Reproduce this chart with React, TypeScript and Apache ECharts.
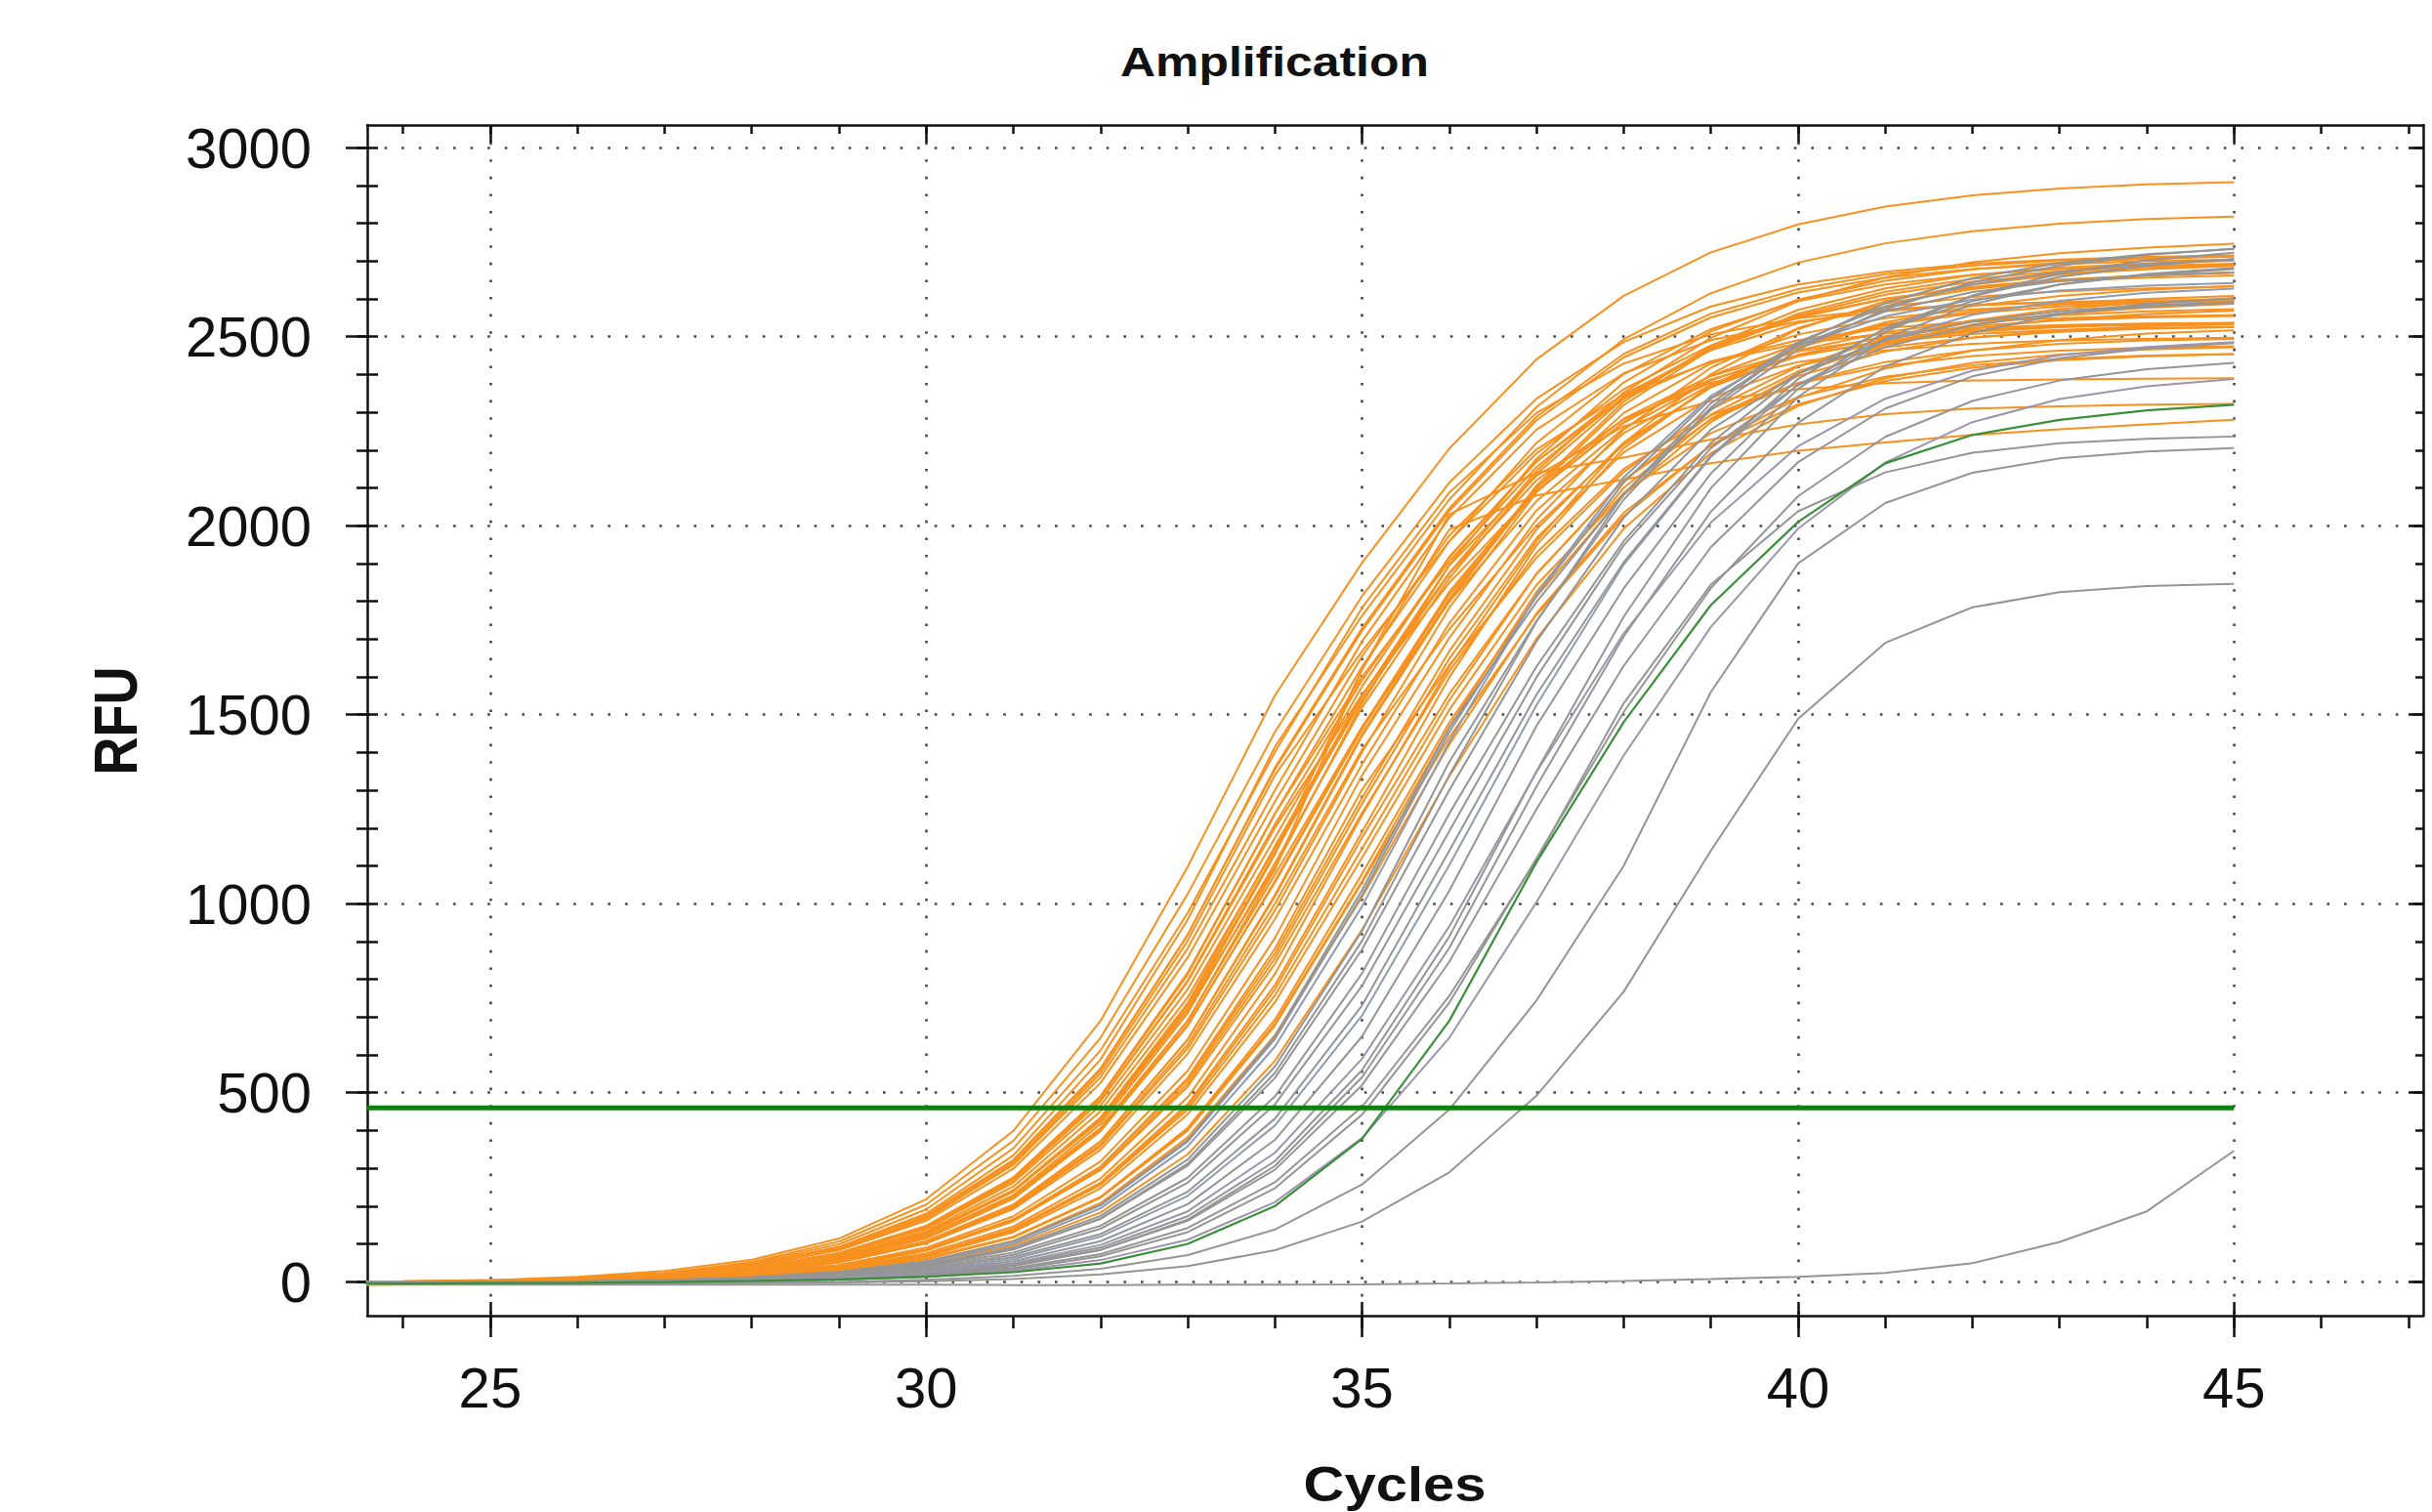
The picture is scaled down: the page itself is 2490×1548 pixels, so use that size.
import React, { useEffect, useRef } from "react";
import * as echarts from "echarts";

// ---------- data ----------
const cycles = [23, 24, 25, 26, 27, 28, 29, 30, 31, 32, 33, 34, 35, 36, 37, 38, 39, 40, 41, 42, 43, 44, 45];

const orangeCurves: number[][] = [
  [-2, 0, 4, 13, 28, 58, 114, 218, 399, 690, 1098, 1551, 1902, 2204, 2440, 2608, 2723, 2797, 2844, 2874, 2892, 2903, 2909],
  [-4, -2, 1, 8, 20, 45, 92, 180, 334, 588, 958, 1415, 1762, 2069, 2314, 2493, 2615, 2696, 2747, 2779, 2799, 2811, 2818],
  [-6, -4, 0, 8, 22, 52, 106, 204, 373, 645, 1026, 1454, 1814, 2114, 2336, 2486, 2580, 2638, 2672, 2693, 2704, 2711, 2715],
  [-1, 1, 4, 10, 22, 46, 91, 175, 322, 564, 918, 1355, 1722, 2039, 2279, 2445, 2551, 2617, 2656, 2679, 2692, 2700, 2704],
  [-3, -2, 1, 6, 16, 37, 76, 148, 276, 491, 818, 1238, 1627, 1959, 2219, 2401, 2520, 2594, 2638, 2664, 2679, 2688, 2693],
  [-5, -4, 0, 5, 17, 41, 86, 167, 309, 541, 882, 1300, 1694, 2021, 2254, 2403, 2491, 2540, 2568, 2583, 2591, 2595, 2597],
  [0, 1, 3, 8, 18, 37, 73, 140, 262, 466, 774, 1174, 1575, 1918, 2171, 2336, 2435, 2491, 2523, 2540, 2549, 2554, 2557],
  [-5, -4, -1, 4, 12, 29, 64, 126, 238, 431, 730, 1135, 1548, 1896, 2177, 2379, 2514, 2598, 2648, 2678, 2696, 2706, 2712],
  [-7, -6, -3, 2, 12, 31, 72, 144, 268, 478, 794, 1201, 1553, 1849, 2091, 2272, 2397, 2480, 2533, 2567, 2588, 2600, 2608],
  [-3, -2, 1, 5, 13, 29, 61, 119, 223, 402, 680, 1056, 1461, 1818, 2092, 2274, 2387, 2451, 2487, 2507, 2518, 2523, 2526],
  [-4, -3, -1, 3, 10, 24, 53, 104, 196, 358, 617, 982, 1401, 1783, 2088, 2298, 2429, 2506, 2549, 2572, 2585, 2592, 2596],
  [-2, -1, 1, 5, 12, 27, 55, 107, 204, 371, 640, 1019, 1444, 1801, 2099, 2319, 2467, 2561, 2619, 2653, 2673, 2684, 2691],
  [-5, -4, -3, 0, 6, 18, 42, 86, 165, 304, 533, 868, 1280, 1668, 1990, 2220, 2366, 2452, 2501, 2528, 2543, 2551, 2555],
  [-6, -5, -3, 0, 7, 21, 50, 101, 192, 349, 603, 959, 1369, 1742, 2040, 2245, 2373, 2448, 2490, 2513, 2525, 2532, 2536],
  [-3, -2, -1, 1, 6, 16, 35, 71, 137, 256, 455, 757, 1146, 1538, 1873, 2120, 2281, 2378, 2433, 2464, 2481, 2490, 2494],
  [-4, -3, -2, 2, 8, 20, 44, 90, 173, 318, 558, 909, 1340, 1703, 2016, 2254, 2418, 2523, 2588, 2626, 2649, 2662, 2670],
  [-2, -2, -1, 2, 6, 14, 31, 62, 119, 224, 403, 683, 1060, 1467, 1825, 2100, 2283, 2396, 2461, 2497, 2517, 2528, 2533],
  [-7, -6, -5, -3, 3, 12, 31, 68, 135, 257, 463, 773, 1175, 1555, 1872, 2120, 2294, 2408, 2479, 2521, 2546, 2560, 2569],
  [-1, 0, 1, 4, 10, 21, 43, 83, 160, 295, 516, 841, 1240, 1615, 1928, 2150, 2292, 2376, 2423, 2449, 2463, 2471, 2475],
  [-5, -4, -3, -1, 5, 15, 34, 70, 140, 262, 470, 785, 1190, 1599, 1948, 2205, 2372, 2473, 2530, 2562, 2580, 2589, 2594],
  [-5, -4, -3, -1, 2, 9, 22, 48, 95, 183, 337, 584, 931, 1337, 1701, 1992, 2192, 2317, 2390, 2431, 2453, 2466, 2472],
  [-9, -8, -7, -5, 0, 7, 23, 52, 108, 208, 382, 652, 1018, 1421, 1768, 2034, 2212, 2321, 2383, 2418, 2438, 2448, 2454],
  [-2, -1, 2, 8, 20, 42, 83, 161, 299, 526, 858, 1270, 1655, 1974, 2202, 2347, 2433, 2482, 2508, 2523, 2531, 2535, 2537],
  [-1, 0, 3, 8, 18, 37, 74, 144, 268, 479, 797, 1210, 1591, 1916, 2169, 2348, 2464, 2536, 2579, 2605, 2620, 2628, 2633],
  [-6, -5, -2, 2, 11, 28, 59, 120, 229, 417, 711, 1107, 1519, 1861, 2137, 2336, 2467, 2550, 2600, 2629, 2647, 2656, 2662],
  [-1, 0, 2, 6, 13, 27, 54, 105, 199, 363, 627, 1000, 1408, 1726, 2000, 2214, 2367, 2471, 2538, 2581, 2608, 2624, 2634],
  [-3, -2, -1, 2, 7, 17, 37, 75, 146, 273, 488, 814, 1234, 1627, 1959, 2219, 2401, 2520, 2594, 2638, 2664, 2679, 2688],
  [-5, -5, -4, -1, 3, 11, 28, 59, 117, 224, 407, 693, 1079, 1479, 1812, 2081, 2274, 2403, 2483, 2532, 2560, 2577, 2587],
  [-4, -2, 2, 9, 23, 49, 99, 191, 353, 612, 976, 1401, 1783, 2088, 2298, 2429, 2506, 2549, 2572, 2585, 2592, 2596, 2597],
  [-4, -3, 0, 5, 13, 31, 64, 126, 239, 434, 737, 1152, 1552, 1875, 2145, 2352, 2497, 2594, 2657, 2697, 2721, 2736, 2746],
  [-3, -2, 1, 6, 14, 30, 62, 120, 228, 405, 690, 1090, 1620, 1990, 2080, 2122, 2165, 2198, 2220, 2240, 2255, 2268, 2280],
  [-6, -5, -2, 3, 12, 30, 64, 128, 240, 425, 720, 1130, 1620, 2030, 2140, 2180, 2228, 2268, 2295, 2310, 2316, 2320, 2322],
  [-2, 0, 2, 7, 16, 34, 67, 130, 242, 433, 721, 1096, 1530, 1895, 2132, 2263, 2330, 2361, 2377, 2384, 2387, 2389, 2390],
  [-7, -6, -5, -1, 5, 16, 39, 82, 162, 304, 539, 881, 1302, 1631, 1915, 2142, 2308, 2421, 2496, 2543, 2573, 2591, 2602],
  [-3, -2, 0, 5, 15, 33, 68, 134, 252, 451, 752, 1146, 1538, 1873, 2120, 2281, 2378, 2433, 2464, 2481, 2490, 2494, 2497],
  [-2, -1, 2, 6, 14, 31, 61, 119, 225, 407, 691, 1077, 1468, 1799, 2065, 2257, 2384, 2464, 2512, 2541, 2557, 2567, 2573],
  [-5, -5, -3, -1, 4, 13, 32, 66, 131, 247, 443, 739, 1122, 1513, 1843, 2086, 2245, 2340, 2394, 2424, 2441, 2450, 2454],
  [-5, -4, 0, 6, 18, 41, 85, 167, 312, 552, 902, 1340, 1668, 1959, 2191, 2361, 2477, 2553, 2601, 2632, 2651, 2662, 2669],
  [-5, -4, -1, 3, 11, 27, 57, 114, 219, 398, 677, 1060, 1467, 1825, 2100, 2283, 2396, 2461, 2497, 2517, 2528, 2533, 2536],
  [-2, -1, 1, 5, 12, 27, 54, 106, 203, 371, 641, 1023, 1449, 1807, 2106, 2328, 2476, 2571, 2628, 2663, 2683, 2694, 2701],
  [-3, -2, -1, 2, 8, 20, 42, 83, 160, 298, 524, 855, 1265, 1648, 1967, 2194, 2338, 2423, 2472, 2498, 2513, 2521, 2525],
  [-3, -2, 1, 6, 16, 36, 74, 145, 272, 487, 813, 1238, 1600, 1906, 2155, 2341, 2471, 2556, 2611, 2645, 2667, 2679, 2688],
  [-2, -1, 0, 3, 7, 15, 31, 61, 118, 222, 400, 678, 1056, 1440, 1764, 2025, 2213, 2338, 2416, 2463, 2491, 2508, 2517],
  [-4, -2, 1, 7, 19, 43, 88, 171, 318, 561, 917, 1360, 1729, 2046, 2288, 2454, 2561, 2626, 2665, 2688, 2702, 2710, 2714],
];

const grayCurves: number[][] = [
  [-4, -3, -2, 0, 4, 12, 26, 54, 106, 202, 371, 642, 1023, 1454, 1814, 2114, 2336, 2486, 2580, 2638, 2672, 2693, 2704],
  [-7, -6, -5, -3, 1, 8, 22, 49, 100, 194, 358, 622, 993, 1428, 1818, 2128, 2343, 2476, 2554, 2598, 2622, 2635, 2642],
  [-3, -2, -1, 0, 4, 9, 21, 44, 86, 166, 307, 539, 879, 1300, 1694, 2021, 2254, 2403, 2491, 2540, 2568, 2583, 2591],
  [-5, -4, -3, -1, 2, 8, 21, 45, 90, 174, 323, 569, 928, 1375, 1748, 2069, 2313, 2481, 2589, 2655, 2695, 2718, 2732],
  [-2, -1, 0, 1, 4, 9, 19, 39, 77, 148, 275, 490, 816, 1238, 1627, 1959, 2219, 2401, 2520, 2594, 2638, 2664, 2679],
  [-6, -5, -5, -4, -1, 3, 12, 28, 60, 119, 227, 413, 704, 1102, 1525, 1897, 2182, 2373, 2491, 2558, 2595, 2616, 2627],
  [-4, -4, -3, -2, 0, 4, 12, 26, 54, 107, 205, 375, 649, 1034, 1470, 1834, 2138, 2362, 2513, 2609, 2667, 2702, 2722],
  [-3, -3, -2, -1, 1, 4, 10, 22, 46, 90, 173, 319, 560, 913, 1350, 1759, 2099, 2341, 2495, 2586, 2638, 2666, 2682],
  [-6, -6, -5, -4, -3, 1, 7, 18, 41, 84, 164, 306, 541, 883, 1310, 1707, 2037, 2272, 2421, 2510, 2560, 2587, 2602],
  [-2, -2, -1, 0, 1, 4, 10, 21, 43, 84, 161, 296, 520, 846, 1250, 1629, 1943, 2168, 2310, 2395, 2443, 2469, 2483],
  [-5, -5, -4, -4, -2, 0, 5, 14, 32, 67, 131, 247, 442, 738, 1120, 1507, 1835, 2078, 2235, 2330, 2384, 2414, 2431],
  [-3, -3, -3, -2, -1, 1, 5, 13, 28, 57, 111, 210, 380, 645, 1004, 1392, 1732, 1992, 2167, 2274, 2335, 2369, 2388],
  [-4, -4, -3, -2, 0, 2, 7, 17, 36, 73, 142, 263, 463, 756, 1116, 1530, 1844, 2038, 2141, 2193, 2218, 2230, 2236],
  [-6, -6, -6, -5, -5, -3, -1, 5, 15, 34, 70, 138, 257, 455, 744, 1100, 1560, 1900, 2060, 2140, 2178, 2196, 2205],
  [-5, -5, -5, -5, -4, -3, -2, 1, 7, 19, 41, 83, 159, 289, 492, 767, 1140, 1489, 1690, 1784, 1824, 1840, 1846],
  [-6, -7, -8, -8, -8, -8, -8, -8, -9, -9, -8, -8, -7, -5, -2, 2, 7, 13, 23, 49, 105, 186, 346],
  [-5, -4, -3, -2, 0, 6, 16, 35, 71, 140, 262, 469, 783, 1192, 1599, 1948, 2205, 2372, 2473, 2530, 2562, 2580, 2589],
  [-3, -2, -2, -1, 2, 7, 15, 32, 65, 126, 238, 431, 731, 1140, 1553, 1903, 2185, 2388, 2523, 2607, 2658, 2688, 2706],
  [-7, -6, -5, -4, 0, 6, 18, 41, 85, 167, 312, 552, 902, 1340, 1746, 2083, 2324, 2477, 2567, 2618, 2647, 2662, 2670],
  [-4, -4, -3, -2, 0, 3, 10, 24, 49, 97, 186, 341, 590, 940, 1348, 1715, 2008, 2210, 2336, 2410, 2451, 2473, 2486],
  [-6, -5, -4, -2, 2, 10, 24, 52, 106, 203, 375, 649, 1036, 1466, 1798, 2084, 2306, 2466, 2573, 2644, 2688, 2716, 2733],
];

const controlCurve = [-4, -5, -4, -3, -1, 2, 6, 13, 25, 48, 100, 200, 378, 690, 1110, 1480, 1790, 2010, 2165, 2240, 2280, 2305, 2320];

const THRESHOLD = 460;
const thresholdEndCycle = 45;

const xLabelValues = [25, 30, 35, 40, 45];
const xMinorValues = [24, 25, 26, 27, 28, 29, 30, 31, 32, 33, 34, 35, 36, 37, 38, 39, 40, 41, 42, 43, 44, 45, 46, 47];
const yLabelValues = [0, 500, 1000, 1500, 2000, 2500, 3000];
const yMinorValues = [0, 100, 200, 300, 400, 500, 600, 700, 800, 900, 1000, 1100, 1200, 1300, 1400, 1500, 1600, 1700, 1800, 1900, 2000, 2100, 2200, 2300, 2400, 2500, 2600, 2700, 2800, 2900, 3000];

const X_MIN = 23.59;
const X_MAX = 47.17;
const Y_MIN = -90;
const Y_MAX = 3060;

// ---------- styles ----------
const ORANGE = "#f7911f";
const GRAY = "#959595";
const grayTints: Record<number, string> = { 1: "#8f9bb0", 5: "#8f9bb0", 11: "#9c95ab", 19: "#9c95ab" };
const GREEN_CURVE = "#3b8f3b";
const GREEN_THRESHOLD = "#0f7f0f";
const INK = "#111111";
const NUM_FONT = '"Liberation Sans", Arial, sans-serif';

const tickStyle = { color: INK, width: 2.5 };
const dotted = { color: "#474747", width: 2.6, type: [2.6, 15] as number[] };

function hiddenAxisBase(kind: "x" | "y", position: string) {
  return {
    type: "value",
    min: kind === "x" ? X_MIN : Y_MIN,
    max: kind === "x" ? X_MAX : Y_MAX,
    position,
    axisLine: { show: false, onZero: false },
    axisLabel: { show: false },
    splitLine: { show: false },
    minorTick: { show: false },
  };
}

const plainNumber = (v: number) => String(v);

export default function App() {
  const ref = useRef<HTMLDivElement>(null);

  useEffect(() => {
    if (!ref.current) return;
    const chart = echarts.init(ref.current, undefined, { renderer: "svg" });

    const pairs = (vals: number[]) => cycles.map((c, i) => [c, vals[i]]);
    const lineBase = {
      type: "line",
      symbol: "none",
      showSymbol: false,
      smooth: false,
      silent: true,
      animation: false,
      emphasis: { disabled: true },
      xAxisIndex: 0,
      yAxisIndex: 0,
    };

    const series: any[] = [];
    orangeCurves.forEach((vals, i) => {
      series.push({ ...lineBase, name: `Sample ${i + 1}`, data: pairs(vals), lineStyle: { color: ORANGE, width: 2 }, z: 3 });
    });
    grayCurves.forEach((vals, i) => {
      series.push({ ...lineBase, name: `Reference ${i + 1}`, data: pairs(vals), lineStyle: { color: grayTints[i] || GRAY, width: 2 }, z: 4 });
    });
    series.push({ ...lineBase, name: "Control", data: pairs(controlCurve), lineStyle: { color: GREEN_CURVE, width: 2.2 }, z: 5 });
    series.push({
      ...lineBase,
      name: "Threshold",
      data: [[X_MIN, THRESHOLD], [thresholdEndCycle, THRESHOLD]],
      lineStyle: { color: GREEN_THRESHOLD, width: 5 },
      z: 6,
    });

    const option: any = {
      animation: false,
      backgroundColor: "#ffffff",
      grid: { left: 376, right: 9, top: 128, bottom: 201, containLabel: false, outerBoundsMode: "none" },
      xAxis: [
        {
          type: "value",
          min: X_MIN,
          max: X_MAX,
          position: "bottom",
          axisLine: { show: true, onZero: false, lineStyle: { color: INK, width: 2.5 } },
          axisTick: { show: true, inside: false, length: 22, customValues: xLabelValues, lineStyle: tickStyle },
          axisLabel: { show: true, customValues: xLabelValues, formatter: plainNumber, margin: 44, fontSize: 58, color: INK, fontFamily: NUM_FONT },
          splitLine: { show: true, lineStyle: dotted },
          minorTick: { show: false },
        },
        { ...hiddenAxisBase("x", "bottom"), axisTick: { show: true, inside: false, length: 13, customValues: xMinorValues, lineStyle: tickStyle } },
        { ...hiddenAxisBase("x", "bottom"), axisTick: { show: true, inside: true, length: 14, customValues: xLabelValues, lineStyle: tickStyle } },
        {
          ...hiddenAxisBase("x", "top"),
          axisLine: { show: true, onZero: false, lineStyle: { color: INK, width: 2.5 } },
          axisTick: { show: true, inside: true, length: 9, customValues: xMinorValues, lineStyle: tickStyle },
        },
        { ...hiddenAxisBase("x", "top"), axisTick: { show: true, inside: true, length: 18, customValues: xLabelValues, lineStyle: tickStyle } },
      ],
      yAxis: [
        {
          type: "value",
          min: Y_MIN,
          max: Y_MAX,
          position: "left",
          axisLine: { show: true, onZero: false, lineStyle: { color: INK, width: 2.5 } },
          axisTick: { show: true, inside: false, length: 22, customValues: yLabelValues, lineStyle: tickStyle },
          axisLabel: { show: true, customValues: yLabelValues, formatter: plainNumber, margin: 57, fontSize: 58, color: INK, fontFamily: NUM_FONT },
          splitLine: { show: true, lineStyle: dotted },
          minorTick: { show: false },
        },
        { ...hiddenAxisBase("y", "left"), axisTick: { show: true, inside: false, length: 11, customValues: yMinorValues, lineStyle: tickStyle } },
        { ...hiddenAxisBase("y", "left"), axisTick: { show: true, inside: true, length: 11, customValues: yMinorValues, lineStyle: tickStyle } },
        {
          ...hiddenAxisBase("y", "right"),
          axisLine: { show: true, onZero: false, lineStyle: { color: INK, width: 2.5 } },
          axisTick: { show: true, inside: true, length: 8, customValues: yMinorValues, lineStyle: tickStyle },
        },
        { ...hiddenAxisBase("y", "right"), axisTick: { show: true, inside: true, length: 15, customValues: yLabelValues, lineStyle: tickStyle } },
      ],
      graphic: [
        {
          type: "text",
          x: 1305,
          y: 63,
          scaleX: 1.16,
          silent: true,
          style: {
            text: "Amplification",
            font: `bold 43px ${NUM_FONT}`,
            fill: INK,
            align: "center",
            verticalAlign: "middle",
            textAlign: "center",
            textVerticalAlign: "middle",
          },
        },
        {
          type: "text",
          x: 118,
          y: 738,
          rotation: Math.PI / 2,
          scaleY: 1.16,
          silent: true,
          style: {
            text: "RFU",
            font: `bold 54px ${NUM_FONT}`,
            fill: INK,
            align: "center",
            verticalAlign: "middle",
            textAlign: "center",
            textVerticalAlign: "middle",
          },
        },
        {
          type: "text",
          x: 1428,
          y: 1519,
          scaleX: 1.16,
          silent: true,
          style: {
            text: "Cycles",
            font: `bold 50px ${NUM_FONT}`,
            fill: INK,
            align: "center",
            verticalAlign: "middle",
            textAlign: "center",
            textVerticalAlign: "middle",
          },
        },
      ],
      series,
    };

    chart.setOption(option);
    return () => {
      chart.dispose();
    };
  }, []);

  return (
    <div
      ref={ref}
      style={{ position: "fixed", left: 0, top: 0, width: "2490px", height: "1548px", background: "#ffffff" }}
    />
  );
}
